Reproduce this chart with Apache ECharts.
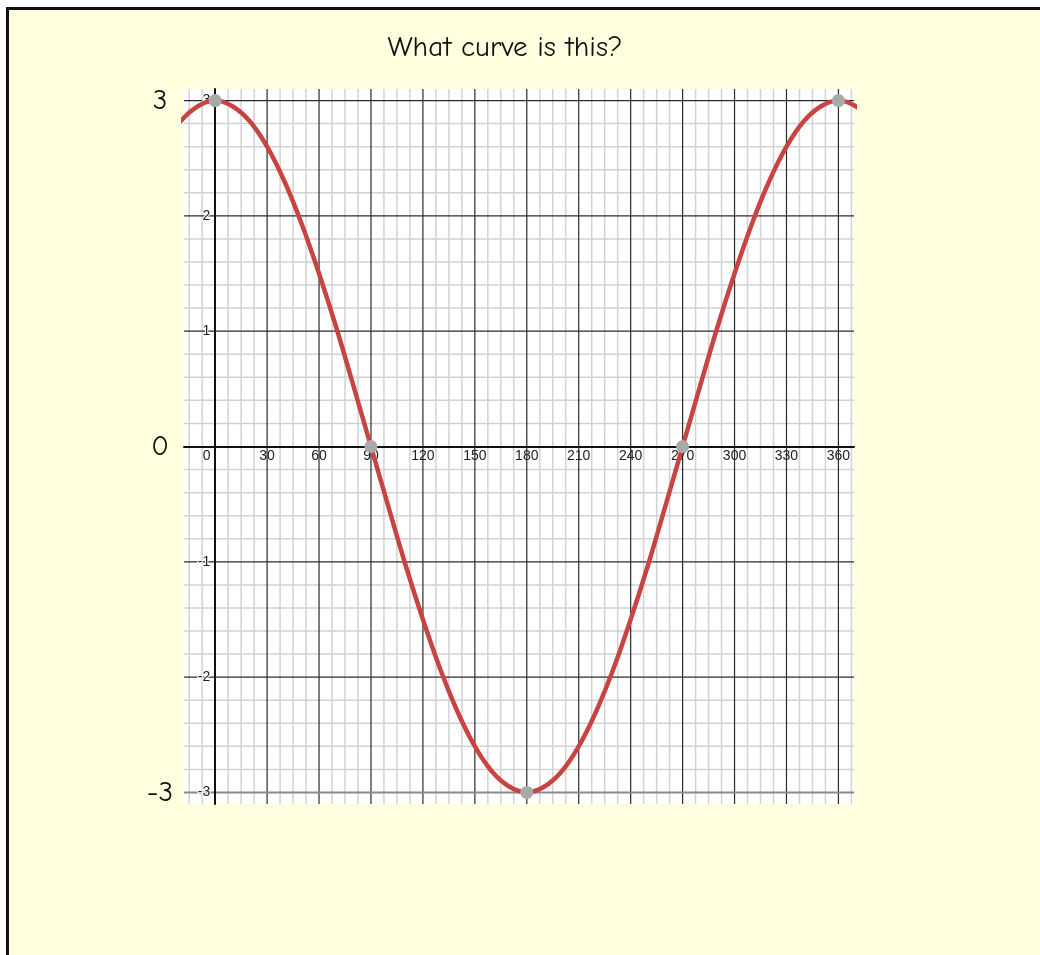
<!DOCTYPE html>
<html>
<head>
<meta charset="utf-8">
<title>What curve is this?</title>
<script src="https://cdn.jsdelivr.net/npm/echarts@6/dist/echarts.min.js"></script>
<style>
  html, body { margin: 0; padding: 0; background: #ffffff; }
  #frame {
    position: absolute; left: 6px; top: 7px; width: 1040px; height: 960px;
    background: #FFFFE0; border-left: 3px solid #111; border-top: 3px solid #111;
  }
  #chart { position: absolute; left: 0; top: 0; width: 1040px; height: 955px; }
</style>
</head>
<body>
<div id="frame"></div>
<div id="chart"></div>
<script>
// Angle in degrees and the value of the plotted curve at that angle
const curveX = [-30, -20, -10, 0, 10, 20, 30, 40, 50, 60, 70, 80, 90, 100, 110, 120, 130, 140, 150, 160, 170, 180,
                190, 200, 210, 220, 230, 240, 250, 260, 270, 280, 290, 300, 310, 320, 330, 340, 350, 360, 370, 380];
const curveY = [2.60, 2.82, 2.95, 3.00, 2.95, 2.82, 2.60, 2.30, 1.93, 1.50, 1.03, 0.52, 0.00, -0.52, -1.03, -1.50, -1.93, -2.30, -2.60, -2.82, -2.95, -3.00,
                -2.95, -2.82, -2.60, -2.30, -1.93, -1.50, -1.03, -0.52, 0.00, 0.52, 1.03, 1.50, 1.93, 2.30, 2.60, 2.82, 2.95, 3.00, 2.95, 2.82];

// Highlighted points: maxima, zeros and minimum
const keyX = [0, 90, 180, 270, 360];
const keyY = [3, 0, -3, 0, 3];

// Tick labels
const xTickLabels = [0, 30, 60, 90, 120, 150, 180, 210, 240, 270, 300, 330, 360];
const yTickLabels = [-3, -2, -1, 1, 2, 3];
const yBigLabels = [-3, 0, 3];

// Axis window and grid spacing
const X_MIN = -18, X_MAX = 369, Y_MIN = -3.1, Y_MAX = 3.1;
const X_MAJOR = 30, X_MINOR = 7.5, Y_MINOR = 0.2;

// Plot rectangle
const G_LEFT = 184, G_TOP = 89, G_W = 670, G_H = 715;
// Distance from the plot edges to the zero lines, so the axes sit on x = 0 and y = 0
const xZeroShift = G_H * (0 - Y_MIN) / (Y_MAX - Y_MIN);
const yZeroShift = G_W * (0 - X_MIN) / (X_MAX - X_MIN);

const comic = "'Comic Sans MS', 'Comic Neue', 'Open Sans', sans-serif";
const plain = "Arial, 'Liberation Sans', sans-serif";

// Grid line list: [value, 'v'|'h', kind]  kind 0 = minor, 1 = major
const gridLines = [];
for (let i = Math.ceil(X_MIN / X_MINOR); i * X_MINOR <= X_MAX; i++) {
  const v = i * X_MINOR;
  if (v === 0) continue;
  gridLines.push([v, 'v', (Math.abs(v % X_MAJOR) < 1e-9) ? 1 : 0]);
}
for (let i = Math.ceil(Y_MIN / Y_MINOR - 1e-9); i * Y_MINOR <= Y_MAX + 1e-9; i++) {
  const v = Math.round(i * Y_MINOR * 10) / 10;
  if (v === 0) continue;
  gridLines.push([v, 'h', (Math.abs(v - Math.round(v)) < 1e-9) ? 1 : 0]);
}
gridLines.sort((a, b) => a[2] - b[2]);

const chart = echarts.init(document.getElementById('chart'), null, { renderer: 'canvas' });

chart.setOption({
  backgroundColor: 'transparent',
  animation: false,
  graphic: [{
    type: 'text', x: 505, y: 48, z: 10,
    style: {
      text: 'What curve is this?', font: '29px ' + comic, fill: '#111',
      align: 'center', verticalAlign: 'middle'
    }
  }],
  grid: {
    left: G_LEFT, top: G_TOP, width: G_W, height: G_H,
    show: true, backgroundColor: '#ffffff', borderWidth: 0, z: 0
  },
  xAxis: {
    type: 'value', min: X_MIN, max: X_MAX, z: 2,
    position: 'bottom', offset: -xZeroShift,
    axisLine: { show: true, onZero: false, lineStyle: { color: '#111', width: 2 } },
    axisTick: { show: false },
    splitLine: { show: false },
    axisLabel: {
      customValues: xTickLabels, margin: 3, fontSize: 14, fontFamily: plain, color: '#222',
      formatter: v => v === 0 ? '{z|0}' : String(v),
      rich: { z: { fontSize: 14, fontFamily: plain, color: '#222', padding: [0, 17, 0, 0] } },
      hideOverlap: false, showMinLabel: true, showMaxLabel: true
    }
  },
  yAxis: [{
    type: 'value', min: Y_MIN, max: Y_MAX, z: 2,
    position: 'left', offset: -yZeroShift,
    axisLine: { show: true, onZero: false, lineStyle: { color: '#111', width: 2 } },
    axisTick: { show: false },
    splitLine: { show: false },
    axisLabel: {
      customValues: yTickLabels, margin: 5, fontSize: 14, fontFamily: plain, color: '#222',
      textBorderColor: '#fff', textBorderWidth: 2
    }
  }, {
    type: 'value', min: Y_MIN, max: Y_MAX, position: 'left', offset: 0, z: 2,
    axisLine: { show: false, onZero: false },
    axisTick: { show: false },
    splitLine: { show: false },
    axisLabel: {
      customValues: yBigLabels, margin: 24, align: 'center',
      fontSize: 29, fontFamily: comic, color: '#111'
    }
  }],
  series: [{
    // graph-paper grid behind the curve
    type: 'custom', name: 'grid', z: 1, silent: true, clip: true,
    data: gridLines,
    renderItem: function (params, api) {
      const v = api.value(0);
      const dir = gridLines[params.dataIndex][1];
      const kind = gridLines[params.dataIndex][2];
      let p1, p2;
      if (dir === 'v') { p1 = api.coord([v, Y_MIN]); p2 = api.coord([v, Y_MAX]); }
      else { p1 = api.coord([X_MIN, v]); p2 = api.coord([X_MAX, v]); }
      const edge = dir === 'h' && v === -3;
      const style = kind === 1
        ? { stroke: edge ? '#8a8a8a' : '#2b2b2b', lineWidth: edge ? 2 : 1.2 }
        : { stroke: '#d2d2d2', lineWidth: 1.5 };
      return {
        type: 'line',
        shape: { x1: p1[0], y1: p1[1], x2: p2[0], y2: p2[1] },
        style: style
      };
    }
  }, {
    type: 'line', name: 'curve', z: 3, clip: true,
    data: curveX.map((x, i) => [x, curveY[i]]),
    smooth: 0.35, showSymbol: false, silent: true,
    lineStyle: { color: '#C74440', width: 4.5 }
  }, {
    type: 'scatter', name: 'points', z: 4, silent: true,
    data: keyX.map((x, i) => [x, keyY[i]]),
    symbolSize: 13,
    itemStyle: { color: '#a9a9a9', opacity: 1 }
  }]
});
</script>
</body>
</html>
